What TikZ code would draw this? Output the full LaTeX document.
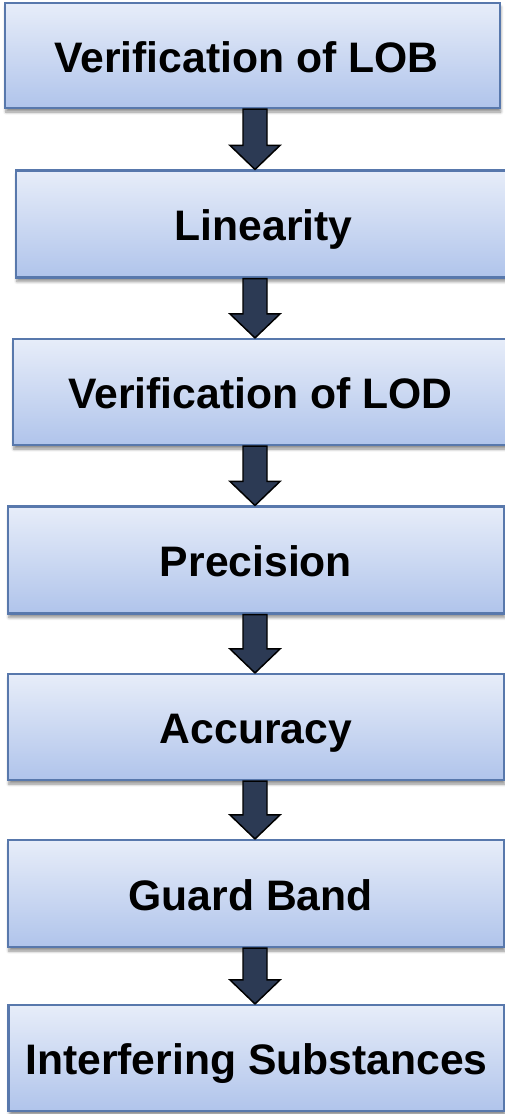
\documentclass[tikz,border=0pt]{standalone}
\usepackage{fontspec}
\setmainfont{Liberation Sans}
\usetikzlibrary{shadings,shadows,shadows.blur,calc}
\definecolor{boxtop}{RGB}{231,237,249}
\definecolor{boxbot}{RGB}{176,196,235}
\definecolor{boxline}{RGB}{88,120,172}
\definecolor{arrowfill}{RGB}{44,58,84}
\def\u{0.75pt}
\tikzset{
  stepbox/.style={draw=boxline, line width=1.6pt, top color=boxtop, bottom color=boxbot,
    minimum width=495*\u, minimum height=106*\u, inner sep=0pt,
    text height=28.8pt, text depth=3.84pt,
    font=\fontsize{32pt}{36pt}\selectfont\bfseries,
    blur shadow={shadow xshift=0.6pt, shadow yshift=-3pt, shadow blur steps=6, shadow opacity=45}},
  blockarrow/.style={fill=arrowfill, draw=black, line width=1.1pt, line join=miter}
}
\newcommand\linkarrow[2]{%
  \path[blockarrow] let \p1=(#1.south), \p2=(#2.north) in
    (243*\u,\y1) -- (267*\u,\y1) -- (267*\u,\y2+24*\u) -- (280*\u,\y2+24*\u)
    -- (255*\u,\y2) -- (230*\u,\y2+24*\u) -- (243*\u,\y2+24*\u) -- cycle;}
\begin{document}
\begin{tikzpicture}[x=0.75pt,y=-0.75pt]
\useasboundingbox (0,0) rectangle (505,1114);
\node[stepbox, minimum height=105*\u] (b1) at (252.5,55.5) {Verification of LOB\hspace*{9pt}};
\node[stepbox, minimum height=107*\u] (b2) at (263.5,224) {Linearity};
\node[stepbox] (b3) at (260.5,392) {Verification of LOD};
\node[stepbox, minimum width=496*\u, minimum height=107*\u] (b4) at (256,560) {Precision};
\node[stepbox, minimum width=496*\u] (b5) at (256,727) {Accuracy};
\node[stepbox, minimum width=496*\u, minimum height=107*\u] (b6) at (256,893.5) {Guard Band\hspace*{8pt}};
\node[stepbox, minimum width=496*\u] (b7) at (256.5,1058) {Interfering Substances};
\linkarrow{b1}{b2}
\linkarrow{b2}{b3}
\linkarrow{b3}{b4}
\linkarrow{b4}{b5}
\linkarrow{b5}{b6}
\linkarrow{b6}{b7}
\end{tikzpicture}
\end{document}
